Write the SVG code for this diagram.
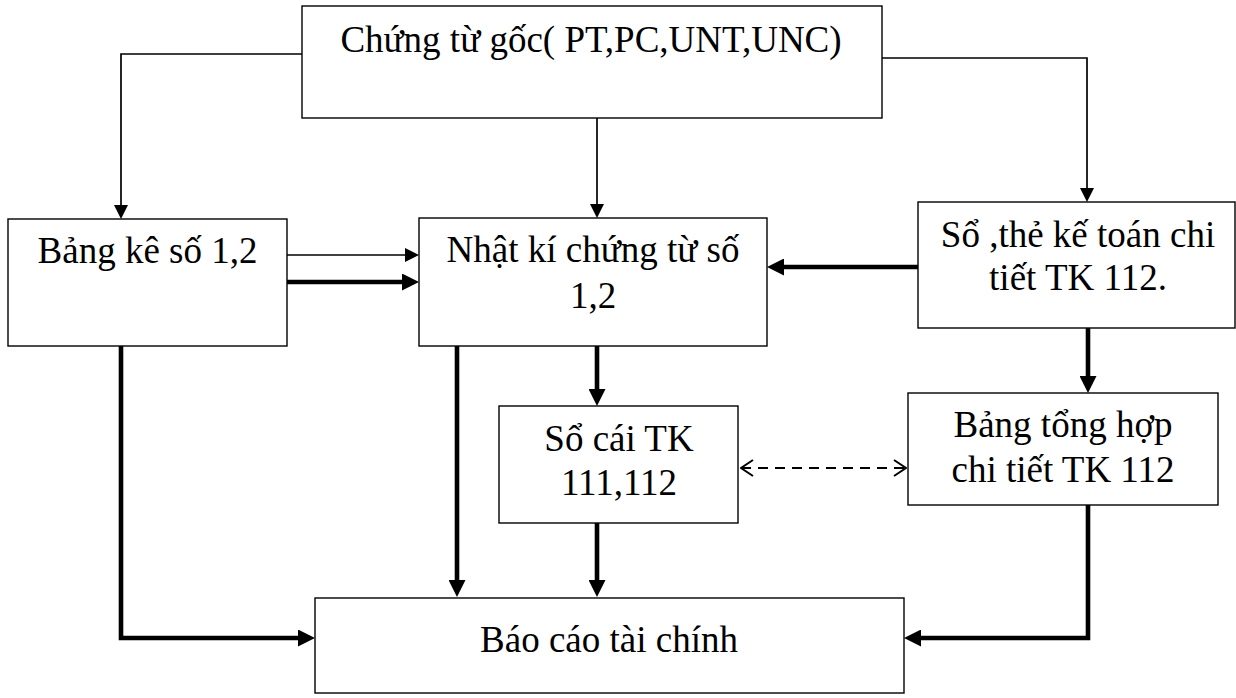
<svg xmlns="http://www.w3.org/2000/svg" width="1236" height="698" viewBox="0 0 1236 698">
  <style>
    .box { fill: #ffffff; stroke: #000000; stroke-width: 1.4; }
    .lbl { font-family: "Liberation Serif", "Times New Roman", serif; font-size: 37px; fill: #000000; text-anchor: middle; }
    .thin { fill: none; stroke: #000000; stroke-width: 1.7; }
    .bold { fill: none; stroke: #000000; stroke-width: 4.6; stroke-linejoin: miter; }
    .dash { fill: none; stroke: #000000; stroke-width: 2; stroke-dasharray: 10 7; }
  </style>
  <defs>
    <marker id="ah" viewBox="0 0 14 14" markerWidth="14" markerHeight="14" refX="0" refY="7" markerUnits="userSpaceOnUse" orient="auto">
      <path d="M0,0 L14,7 L0,14 z" fill="#000000"/>
    </marker>
    <marker id="ahb" viewBox="0 0 17 17" markerWidth="17" markerHeight="17" refX="0" refY="8.5" markerUnits="userSpaceOnUse" orient="auto">
      <path d="M0,0 L17,8.5 L0,17 z" fill="#000000"/>
    </marker>
    <marker id="chev" viewBox="0 0 14 18" markerWidth="14" markerHeight="18" refX="13" refY="9" markerUnits="userSpaceOnUse" orient="auto-start-reverse">
      <path d="M1,1 L13,9 L1,17" fill="none" stroke="#000000" stroke-width="2"/>
    </marker>
  </defs>

  <g id="connectors">
    <path class="thin" d="M302,54 H121 V205" marker-end="url(#ah)"/>
    <path class="thin" d="M597,118 V204" marker-end="url(#ah)"/>
    <path class="thin" d="M882,58 H1087 V188" marker-end="url(#ah)"/>
    <path class="thin" d="M287,255 H405" marker-end="url(#ah)"/>
    <path class="bold" d="M287,282 H402" marker-end="url(#ahb)"/>
    <path class="bold" d="M918,267 H784" marker-end="url(#ahb)"/>
    <path class="bold" d="M1088,328 V376" marker-end="url(#ahb)"/>
    <path class="bold" d="M597,346 V389" marker-end="url(#ahb)"/>
    <path class="bold" d="M457,346 V580" marker-end="url(#ahb)"/>
    <path class="bold" d="M597,523 V580" marker-end="url(#ahb)"/>
    <path class="bold" d="M121,346 V638 H298" marker-end="url(#ahb)"/>
    <path class="bold" d="M1088,505 V638 H921" marker-end="url(#ahb)"/>
    <path class="dash" d="M741,468 H906" marker-start="url(#chev)" marker-end="url(#chev)"/>
  </g>

  <g id="chung-tu-goc">
    <rect class="box" x="302" y="6" width="580" height="112"/>
    <text class="lbl" x="591" y="52">Chứng từ gốc( PT,PC,UNT,UNC)</text>
  </g>

  <g id="bang-ke">
    <rect class="box" x="8" y="219" width="279" height="127"/>
    <text class="lbl" x="147.5" y="263">Bảng kê số 1,2</text>
  </g>

  <g id="nhat-ki">
    <rect class="box" x="419" y="218" width="348" height="128"/>
    <text class="lbl" x="593" y="262">Nhật kí chứng từ số</text>
    <text class="lbl" x="593" y="308">1,2</text>
  </g>

  <g id="so-the">
    <rect class="box" x="918" y="202" width="317" height="126"/>
    <text class="lbl" x="1078" y="247">Sổ ,thẻ kế toán chi</text>
    <text class="lbl" x="1078" y="290">tiết TK 112.</text>
  </g>

  <g id="so-cai">
    <rect class="box" x="499" y="406" width="239" height="117"/>
    <text class="lbl" x="619" y="451">Sổ cái TK</text>
    <text class="lbl" x="619" y="495">111,112</text>
  </g>

  <g id="bang-tong-hop">
    <rect class="box" x="908" y="393" width="310" height="112"/>
    <text class="lbl" x="1063" y="437">Bảng tổng hợp</text>
    <text class="lbl" x="1063" y="482">chi tiết TK 112</text>
  </g>

  <g id="bao-cao">
    <rect class="box" x="315" y="598" width="589" height="95"/>
    <text class="lbl" x="609" y="652">Báo cáo tài chính</text>
  </g>
</svg>
